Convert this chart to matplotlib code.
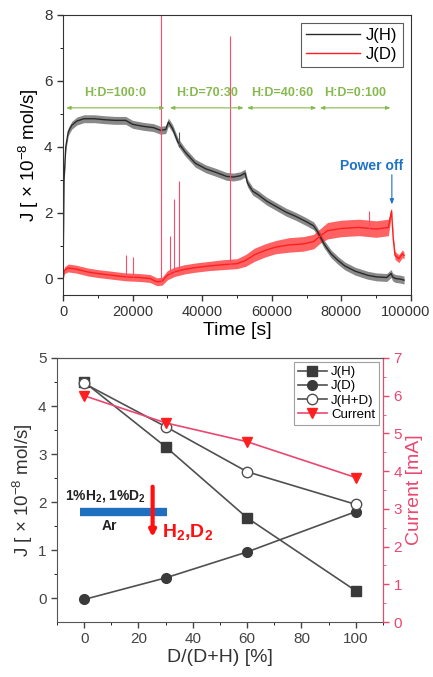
import matplotlib
matplotlib.use("Agg")
import matplotlib.pyplot as plt
import matplotlib.transforms as mtransforms
import numpy as np

plt.rcParams['font.family'] = ['Liberation Sans', 'DejaVu Sans']
plt.rcParams['mathtext.fontset'] = 'custom'
plt.rcParams['mathtext.rm'] = 'Liberation Sans'
plt.rcParams['mathtext.bf'] = 'Liberation Sans:bold'

# --- top panel: flux vs time ---
t_h = [0, 300, 800, 1500, 2500, 4000, 6000, 9000, 12000, 15000,
       18000, 20000, 23000, 26000, 28000, 29500, 30300, 31500, 33000, 35000,
       38000, 41000, 44000, 47000, 49000, 51000, 52300, 53000, 54500, 56000,
       58500, 61000, 64000, 67000, 70000, 72000, 73000, 75000, 77000, 79000,
       81000, 84000, 87500, 90000, 93000, 94300, 94700, 95500, 97000, 98000]
jh = [0.0, 3.0, 4.0, 4.45, 4.65, 4.78, 4.85, 4.85, 4.82, 4.8,
      4.8, 4.68, 4.62, 4.58, 4.5, 4.52, 4.75, 4.55, 4.15, 3.85,
      3.5, 3.33, 3.22, 3.1, 3.08, 3.12, 3.2, 2.9, 2.65, 2.55,
      2.35, 2.2, 2.02, 1.88, 1.72, 1.6, 1.45, 1.05, 0.75, 0.55,
      0.38, 0.22, 0.1, 0.05, 0.03, 0.15, 0.05, 0.0, -0.02, -0.05]
jh_noise = 0.12

t_d = [0, 400, 1500, 4000, 7000, 10000, 14000, 18000, 22000, 25000,
       27000, 28500, 30000, 32000, 35000, 38000, 42000, 46000, 50000, 52500,
       55000, 58000, 61000, 65000, 69000, 72000, 74000, 76000, 80000, 85000,
       90000, 93500, 94400, 94900, 95400, 96500, 97500, 98000]
jd = [0.0, 0.25, 0.32, 0.28, 0.2, 0.15, 0.1, 0.05, 0.03, 0.0,
      -0.1, -0.08, 0.1, 0.2, 0.28, 0.33, 0.38, 0.42, 0.45, 0.55,
      0.72, 0.85, 0.95, 1.02, 1.05, 1.12, 1.3, 1.45, 1.52, 1.55,
      1.5, 1.55, 2.05, 1.2, 0.7, 0.6, 0.75, 0.7]
jd_noise = [0.05, 0.1, 0.12, 0.12, 0.12, 0.12, 0.12, 0.12, 0.12, 0.12,
            0.12, 0.12, 0.14, 0.14, 0.14, 0.14, 0.14, 0.15, 0.15, 0.18,
            0.2, 0.2, 0.2, 0.22, 0.22, 0.22, 0.22, 0.25, 0.25, 0.25,
            0.25, 0.25, 0.1, 0.1, 0.12, 0.12, 0.12, 0.1]

# spikes in J(D): time, base, top
spike_t = [18200, 20100, 28250, 30850, 32000, 33430, 48080, 88000]
spike_base = [0.05, 0.04, -0.1, 0.15, 0.2, 0.25, 0.42, 1.5]
spike_top = [0.7, 0.65, 8.5, 1.3, 2.4, 2.95, 7.35, 2.05]

phase_labels = ["H:D=100:0", "H:D=70:30", "H:D=40:60", "H:D=0:100"]
phase_start = [900, 30700, 52900, 73800]
phase_end = [29200, 51900, 72800, 94100]

# --- bottom panel: summary vs D fraction ---
d_frac = [0, 30, 60, 100]
j_h = [4.5, 3.15, 1.67, 0.15]
j_d = [-0.03, 0.42, 0.96, 1.8]
j_hd = [4.47, 3.57, 2.63, 1.95]
current = [6.0, 5.28, 4.78, 3.83]

green = '#86b94e'
red = '#ff1f1f'
pink = '#ea4770'
gray = '#505050'

fig = plt.figure(figsize=(4.33, 6.77), dpi=100)

ax1 = fig.add_axes([0.1455, 0.5643, 0.8037, 0.4136])
jd_arr = np.array(jd)
jdn = np.array(jd_noise)
jh_arr = np.array(jh)
ax1.fill_between(t_h, jh_arr - jh_noise, jh_arr + jh_noise, color='#3a3a3a', alpha=0.6, lw=0)
ax1.plot(t_h, jh, color='#2a2a2a', lw=1.0, label='J(H)')
ax1.fill_between(t_d, jd_arr - jdn, jd_arr + jdn, color=red, alpha=0.7, lw=0)
ax1.plot(t_d, jd, color=red, lw=1.0, label='J(D)')
ax1.vlines(spike_t, spike_base, spike_top, color='#ff4a6a', lw=0.8)
ax1.vlines([33430], [4.0], [4.45], color='#555555', lw=0.8)

for lab, s, e in zip(phase_labels, phase_start, phase_end):
    ax1.annotate('', xy=(e, 5.18), xytext=(s, 5.18),
                 arrowprops=dict(arrowstyle='<|-|>,head_length=0.25,head_width=0.1',
                                 color=green, lw=0.8, shrinkA=0, shrinkB=0))
    ax1.text((s + e) / 2, 5.62, lab, color=green, fontsize=9, fontweight='bold',
             ha='center', va='center')

ax1.text(88800, 3.4, 'Power off', color='#1f72c8', fontsize=10, fontweight='bold',
         ha='center', va='center')
ax1.annotate('', xy=(94500, 2.25), xytext=(94500, 3.15),
             arrowprops=dict(arrowstyle='-|>,head_length=0.3,head_width=0.12',
                             color='#1f72c8', lw=0.8, shrinkA=0, shrinkB=0))

ax1.set_xlim(0, 100000)
ax1.set_ylim(-0.5, 8)
ax1.set_xticks(np.arange(0, 100001, 20000))
ax1.set_xticks(np.arange(0, 100001, 10000), minor=True)
ax1.set_yticks([0, 2, 4, 6, 8])
ax1.set_yticks([1, 3, 5, 7], minor=True)
ax1.tick_params(labelsize=11, length=4, width=1, colors='#333333')
ax1.tick_params(axis='x', labelsize=10.5)
ax1.tick_params(which='minor', length=2.5)
for sp in ax1.spines.values():
    sp.set_color('#333333')
ax1.set_xlabel('Time [s]', fontsize=14, labelpad=2)
ax1.set_ylabel('J [ × 10$^{-8}$ mol/s]', fontsize=13.5, labelpad=2)
leg1 = ax1.legend(loc='upper right', fontsize=12, handlelength=3.2, fancybox=False,
                  edgecolor='#333333', borderaxespad=0.5, labelspacing=0.2,
                  borderpad=0.3, handletextpad=0.4)
leg1.get_frame().set_linewidth(0.8)
# keep the last time label inside the figure
last = ax1.get_xticklabels()[-1]
last.set_transform(last.get_transform() +
                   mtransforms.ScaledTranslation(-5 / 100, 0, fig.dpi_scale_trans))

# bottom panel
ax2 = fig.add_axes([0.1316, 0.0812, 0.7529, 0.39])
ax3 = ax2.twinx()
l1, = ax2.plot(d_frac, j_h, color=gray, lw=1.2, marker='s', ms=6.5, mfc='#3a3a3a',
               mec='#3a3a3a', label='J(H)')
l2, = ax2.plot(d_frac, j_d, color=gray, lw=1.2, marker='o', ms=7, mfc='#3a3a3a',
               mec='#3a3a3a', label='J(D)')
l3, = ax2.plot(d_frac, j_hd, color=gray, lw=1.2, marker='o', ms=7.5, mfc='white',
               mec=gray, label='J(H+D)')
l4, = ax3.plot(d_frac, current, color=pink, lw=1.2, marker='v', ms=7.5, mfc=red,
               mec=red, label='Current')

ax2.plot([-1.6, 30.4], [1.80, 1.80], color='#1e6fc0', lw=6, solid_capstyle='butt')
ax2.text(8, 2.12, '1%H$_\\mathbf{2}$, 1%D$_\\mathbf{2}$', fontsize=10, fontweight='bold',
         ha='center', va='center', color='#222222')
ax2.text(9.2, 1.5, 'Ar', fontsize=10, fontweight='bold', ha='center', va='center',
         color='#222222')
ax2.annotate('', xy=(25.2, 1.27), xytext=(25.2, 2.32),
             arrowprops=dict(arrowstyle='-|>,head_length=0.35,head_width=0.18',
                             color='#ff1010', lw=3, shrinkA=0, shrinkB=0))
ax2.text(28.8, 1.36, 'H$_\\mathbf{2}$,D$_\\mathbf{2}$', fontsize=14, fontweight='bold',
         ha='left', va='center', color='#ff1010')

ax2.set_xlim(-10, 110)
ax2.set_ylim(-0.5, 5)
ax3.set_ylim(0, 7)
ax2.set_xticks(np.arange(0, 101, 20))
ax2.set_xticks(np.arange(-10, 111, 10), minor=True)
ax2.set_yticks(np.arange(0, 6, 1))
ax2.set_yticks(np.arange(0.5, 5, 1), minor=True)
ax3.set_yticks(np.arange(0, 8, 1))
ax3.set_yticks(np.arange(0.5, 7, 1), minor=True)
ax2.tick_params(labelsize=11, length=4, width=1, colors='#444444')
ax2.tick_params(which='minor', length=2.5)
ax3.tick_params(labelsize=11, length=4, width=1, colors=pink)
ax3.tick_params(which='minor', length=2.5, colors=pink)
for sp in ax2.spines.values():
    sp.set_color('#555555')
ax3.spines['right'].set_color(pink)
ax3.spines['left'].set_visible(False)
ax3.spines['top'].set_color('#555555')
ax3.spines['bottom'].set_visible(False)
ax2.set_xlabel('D/(D+H) [%]', fontsize=14, labelpad=2, color='#333333')
ax2.set_ylabel('J [ × 10$^{-8}$ mol/s]', fontsize=13.5, labelpad=2, color='#333333')
ax3.set_ylabel('Current [mA]', fontsize=14, color=pink, labelpad=3)

leg2 = ax3.legend([l1, l2, l3, l4], ['J(H)', 'J(D)', 'J(H+D)', 'Current'],
                  loc='upper right', fontsize=9.5, handlelength=2.2, fancybox=False,
                  edgecolor='#888888', borderaxespad=0.3, labelspacing=0.15,
                  borderpad=0.3, handletextpad=0.3)
leg2.get_frame().set_linewidth(0.8)

fig.savefig('out.png', dpi=100)
